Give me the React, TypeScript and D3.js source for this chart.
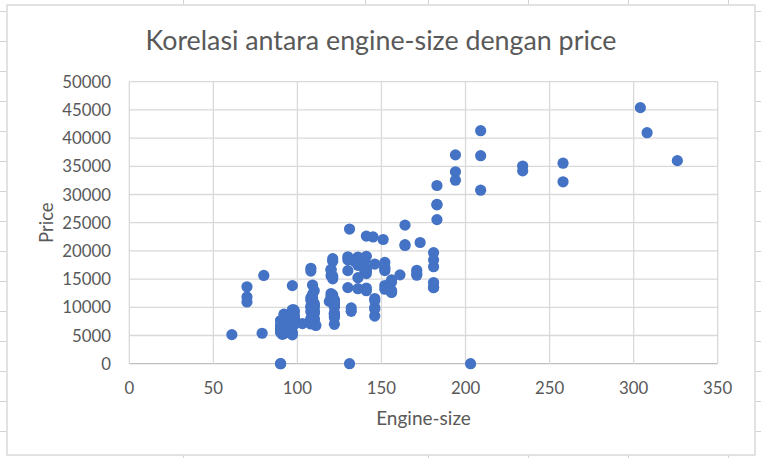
import React from "react";
import * as d3 from "d3";

// engine-size and price, one entry per car (missing prices plotted as 0)
const engineSize = [
  130, 130, 152, 109, 136, 136, 136, 136, 131, 131, 108, 108, 164, 164, 164, 209, 209, 209,
  61, 90, 90, 90, 90, 98, 90, 90, 90, 98, 122, 156, 92, 92, 79, 92, 92, 92, 92, 110, 110, 110,
  110, 110, 110, 111, 90, 90, 119, 258, 258, 326, 91, 91, 91, 91, 91, 70, 70, 70, 80, 122, 122,
  122, 122, 122, 122, 140, 134, 183, 183, 183, 183, 234, 234, 308, 304, 140, 92, 92, 92, 98, 110,
  122, 156, 156, 156, 122, 122, 110, 110, 97, 103, 97, 97, 97, 97, 97, 97, 97, 97, 97, 97, 181,
  181, 181, 181, 181, 181, 120, 152, 120, 152, 120, 152, 120, 152, 120, 152, 134, 90, 98, 90, 90,
  90, 98, 156, 151, 194, 194, 194, 203, 132, 132, 121, 121, 121, 121, 121, 121, 97, 108, 108, 108,
  108, 108, 108, 108, 108, 108, 108, 108, 92, 92, 92, 92, 92, 92, 98, 98, 110, 110, 98, 98, 98, 98,
  98, 98, 98, 146, 146, 146, 146, 146, 146, 122, 110, 122, 122, 122, 171, 171, 171, 161, 97, 109,
  97, 109, 109, 97, 109, 109, 109, 136, 97, 109, 141, 141, 141, 141, 130, 130, 141, 141, 173, 145,
  141,
];

const price = [
  13495, 16500, 16500, 13950, 17450, 15250, 17710, 18920, 23875, 0, 16430, 16925, 20970, 21105,
  24565, 30760, 41315, 36880, 5151, 6295, 6575, 5572, 6377, 7957, 6229, 6692, 7609, 8558, 8921,
  12964, 6479, 6855, 5399, 6529, 7129, 7295, 7295, 7895, 9095, 8845, 10295, 12945, 10345, 6785, 0,
  0, 11048, 32250, 35550, 36000, 5195, 6095, 6795, 6695, 7395, 10945, 11845, 13645, 15645, 8845,
  8495, 10595, 10245, 10795, 11245, 18280, 18344, 25552, 28248, 28176, 31600, 34184, 35056, 40960,
  45400, 16503, 5389, 6189, 6669, 7689, 9959, 8499, 12629, 14869, 14489, 6989, 8189, 9279, 9279,
  5499, 7099, 6649, 6849, 7349, 7299, 7799, 7499, 7999, 8249, 8949, 9549, 13499, 14399, 13499,
  17199, 19699, 18399, 11900, 13200, 12440, 13860, 15580, 16900, 16695, 17075, 16630, 17950, 18150,
  5572, 7957, 6229, 6692, 7609, 8921, 12764, 22018, 32528, 34028, 37028, 0, 9295, 9895, 11850,
  12170, 15040, 15510, 18150, 18620, 5118, 7053, 7603, 7126, 7775, 9960, 9233, 11259, 7463, 10198,
  8013, 11694, 5348, 6338, 6488, 6918, 7898, 8778, 6938, 7198, 7898, 7788, 7738, 8358, 9258, 8058,
  8238, 9298, 9538, 8449, 9639, 9989, 11199, 11549, 17669, 8948, 10698, 9988, 10898, 11248, 16558,
  15998, 15690, 15750, 7775, 7975, 7995, 8195, 8495, 9495, 9995, 11595, 9980, 13295, 13845, 12290,
  12940, 13415, 15985, 16515, 18420, 18950, 16845, 19045, 21485, 22470, 22625,
];

const xTicks = [0, 50, 100, 150, 200, 250, 300, 350];
const yTicks = [0, 5000, 10000, 15000, 20000, 25000, 30000, 35000, 40000, 45000, 50000];

// spreadsheet cell lines visible around the chart object
const sheetRows = [11, 41, 71, 101, 131, 161, 191, 221, 251, 281, 311, 341, 371, 401, 431];
const sheetColsTop = [183, 365, 428, 528, 628, 728];
const sheetColsBottom = [183, 428, 528, 628, 728];

const W = 761;
const H = 458;
const FONT = "Lato, 'Open Sans', sans-serif";
const TEXT = "#595959";

export default function App() {
  const x = d3.scaleLinear().domain([0, 350]).range([129.3, 717.7]);
  const y = d3.scaleLinear().domain([0, 50000]).range([363.7, 81.7]);
  const points = d3.zip(engineSize, price);

  return (
    <div style={{ position: "absolute", left: 0, top: 0 }}>
      <svg width={W} height={H} style={{ display: "block", background: "#fff" }}>
        {/* sheet grid outside chart */}
        {sheetRows.map(r => (
          <g key={"r" + r}>
            <line x1={0} x2={7} y1={r + 0.5} y2={r + 0.5} stroke="#d4d4d4" />
            <line x1={755} x2={W} y1={r + 0.5} y2={r + 0.5} stroke="#d4d4d4" />
          </g>
        ))}
        {sheetColsTop.map(c => (
          <line key={"t" + c} x1={c + 0.5} x2={c + 0.5} y1={0} y2={5} stroke="#d4d4d4" />
        ))}
        {sheetColsBottom.map(c => (
          <line key={"b" + c} x1={c + 0.5} x2={c + 0.5} y1={455} y2={H} stroke="#d4d4d4" />
        ))}

        {/* chart area */}
        <rect x={7} y={5} width={748} height={450} fill="#fff" stroke="#d9d9d9" strokeWidth={1.5} />

        <text x={381} y={50} textAnchor="middle" fontFamily={FONT} fontSize={26.8} fill={TEXT}>
          Korelasi antara engine-size dengan price
        </text>

        {/* gridlines */}
        {yTicks.map(t => (
          <line key={"gy" + t} x1={x(0)} x2={x(350)} y1={y(t)} y2={y(t)}
            stroke={t === 0 ? "#bfbfbf" : "#d9d9d9"} strokeWidth={1.3} />
        ))}
        {xTicks.map(t => (
          <line key={"gx" + t} x1={x(t)} x2={x(t)} y1={y(0)} y2={y(50000)}
            stroke="#d9d9d9" strokeWidth={1.3} />
        ))}

        {/* tick labels */}
        {yTicks.map(t => (
          <text key={"ly" + t} x={111} y={y(t)} dy="0.36em" textAnchor="end"
            fontFamily={FONT} fontSize={16.8} fill={TEXT}>{t}</text>
        ))}
        {xTicks.map(t => (
          <text key={"lx" + t} x={x(t)} y={394} textAnchor="middle"
            fontFamily={FONT} fontSize={16.8} fill={TEXT}>{t}</text>
        ))}

        {/* axis titles */}
        <text x={423.5} y={425} textAnchor="middle" fontFamily={FONT} fontSize={19} fill={TEXT}>
          Engine-size
        </text>
        <text transform="translate(53,222.7) rotate(-90)" textAnchor="middle"
          fontFamily={FONT} fontSize={18.5} fill={TEXT}>
          Price
        </text>

        {/* points */}
        {points.map(([e, p], i) => (
          <circle key={i} cx={x(e)} cy={y(p)} r={5.6} fill="#4472C4" />
        ))}
      </svg>
    </div>
  );
}
